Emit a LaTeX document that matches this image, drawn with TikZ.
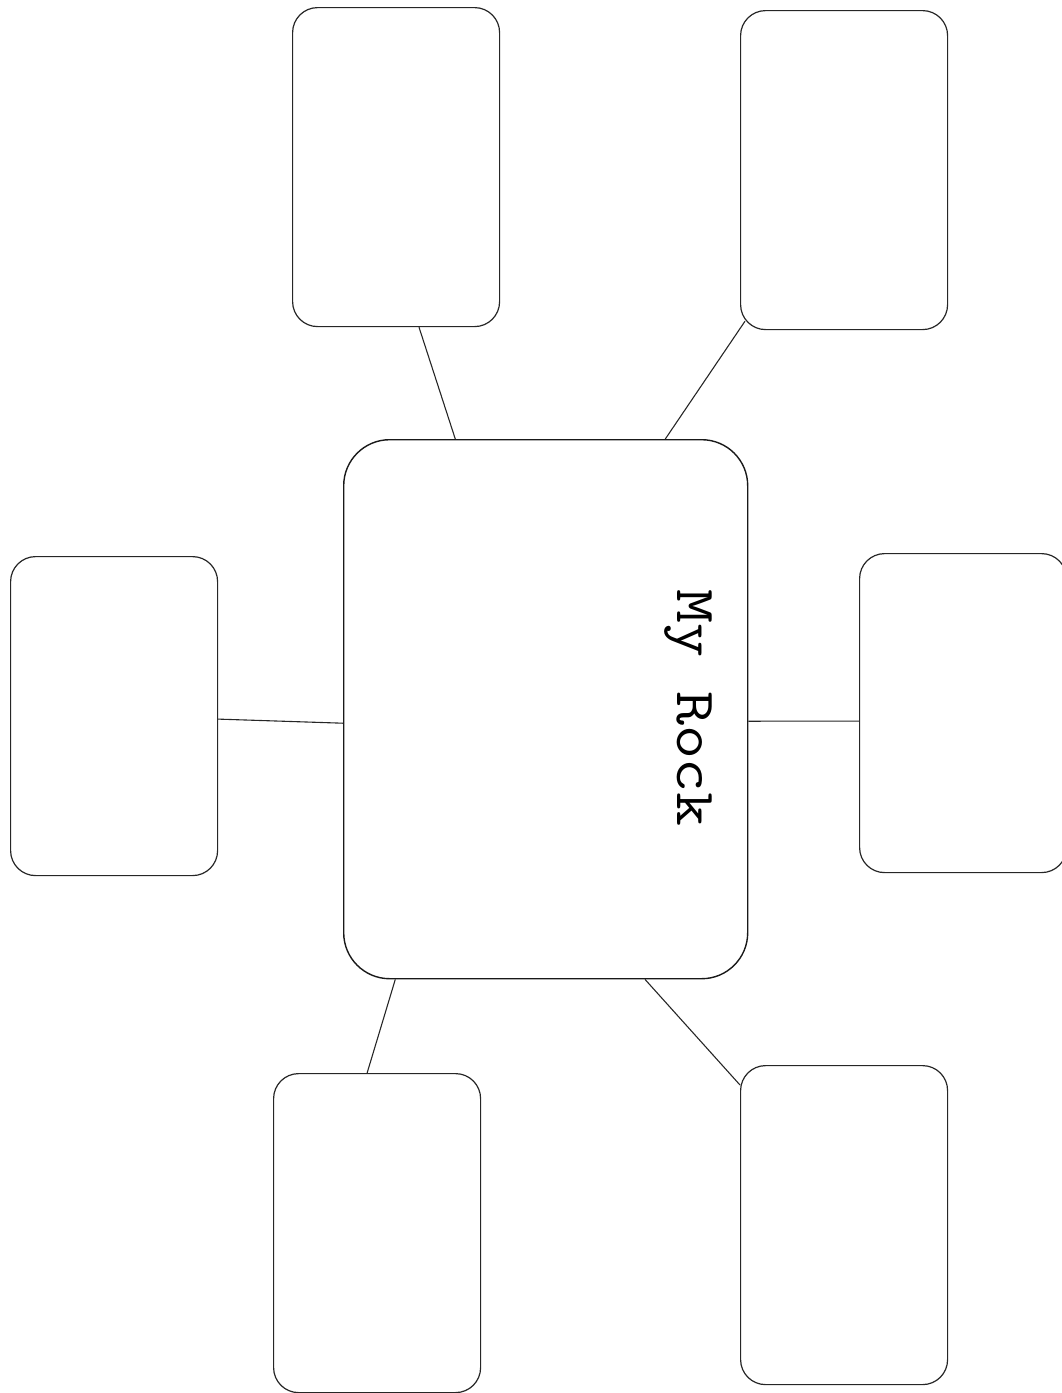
\documentclass[tikz,border=0pt]{standalone}
\usetikzlibrary{calc}
\begin{document}
\begin{tikzpicture}[x=1pt,y=-1pt,
  card/.style={draw=black!85, line width=1.2pt, rounded corners=25pt,
    minimum width=207pt, minimum height=319pt, inner sep=0pt, anchor=north west},
  hub/.style={draw=black!90, line width=1.4pt, rounded corners=46pt,
    minimum width=404pt, minimum height=539pt, inner sep=0pt, anchor=north west},
  link/.style={draw=black!85, line width=1.1pt},
  caption/.style={rotate=-90, anchor=base, inner sep=0pt,
    font=\ttfamily\fontsize{66}{68}\selectfont}]
\useasboundingbox (0,0) rectangle (1062,1393);
\clip (0,0) rectangle (1062,1393);

% central box and its title
\node[hub] (rock) at (343,439) {};
\node[caption] (title) at (677,708) {\scalebox{1}[0.86]{My Rock}};

% surrounding boxes
\node[card] (tl) at (292,7) {};
\node[card] (tr) at (740,10) {};
\node[card] (lf) at (10,556) {};
\node[card] (rt) at (859,553) {};
\node[card] (bl) at (273,1073) {};
\node[card] (br) at (740,1065) {};

% spokes
\draw[link] ($(tl.south west)!0.61!(tl.south east)$) -- ($(rock.north west)!0.277!(rock.north east)$);
\draw[link] ($(tr.south west)+(5,-9)$) -- ($(rock.north west)!0.795!(rock.north east)$);
\draw[link] ($(lf.east)+(0,3)$) -- ($(rock.west)+(0,14)$);
\draw[link] ($(rock.east)+(0,12)$) -- ($(rt.west)+(0,8)$);
\draw[link] ($(rock.south west)!0.129!(rock.south east)$) -- ($(bl.north west)!0.452!(bl.north east)$);
\draw[link] ($(rock.south west)!0.745!(rock.south east)$) -- ($(br.north west)+(0,20)$);
\end{tikzpicture}
\end{document}
